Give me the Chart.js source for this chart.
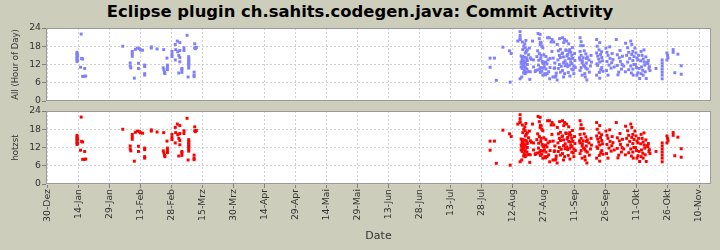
<!DOCTYPE html>
<html>
<head>
<meta charset="utf-8">
<script src="https://cdn.jsdelivr.net/npm/chart.js@4/dist/chart.umd.min.js"></script>
<style>
  html, body { margin: 0; padding: 0; background: #cdcdbb; }
  #wrap { position: relative; width: 720px; height: 250px; }
  #wrap canvas { position: absolute; left: 0; top: 0; }
  #title {
    position: absolute; left: 0; top: 2px; width: 720px; text-align: center;
    font: bold 16.4px "DejaVu Sans", sans-serif; color: #000;
  }
</style>
</head>
<body>
<div id="wrap">
  <div id="title">Eclipse plugin ch.sahits.codegen.java: Commit Activity</div>
  <canvas id="allChart" width="720" height="250"></canvas>
  <canvas id="userChart" width="720" height="250"></canvas>
</div>
<script>
// === Data ===
// x = days after 30-Dez, y = hour of day of the commit
const commitDays = [
    14.3, 14.3, 14.3, 14.3, 14.3, 14.3, 14.3, 14.6, 14.6,
    16.3, 16.5, 17, 16, 18, 17, 17.8, 18.5,
    36.4, 40, 40, 40.3, 41, 41, 41, 42, 42.5, 43.5, 44.5, 45, 46, 44, 44,
    47, 47, 47, 47, 50.2, 50.2, 53, 56.2, 56, 56.3, 56.6, 56.8, 57.8, 58, 58, 58,
    60.2, 60.2, 60.2, 61.8, 62.8, 64, 61.8, 62, 63, 63.5, 64, 64, 64, 65, 65, 63.5, 65,
    66, 66, 67.5, 68.3, 68.3, 68.3, 68.3, 68.3, 68.3, 68.3, 68.3, 68,
    71.2, 71.2, 72, 71.5, 70.9, 70.9, 70.9,
    214, 216.1, 214, 217, 220.2, 223.4, 224.2, 223.7,
    228.5, 228.5, 228.5, 228.5, 227.4, 231.3, 230.3, 231, 232, 231.5, 233, 229.8, 231,
    229.5, 230, 230.5, 231, 231.5, 232, 229.3, 230.5, 229.5, 230.5, 231.5, 228.5, 229.3, 233.4, 235, 234.5,
    238.2, 238.7, 238.2, 239, 239.5, 241.8, 242.7, 236.6, 237.5, 238.5, 239.5, 237.4, 238, 239, 239.5, 238.5,
    240, 241, 242, 243, 240.2, 241, 242.3, 243, 242.8, 243.9, 244.4, 241.5, 240.5,
    244, 244.5, 245, 245.5, 245.3,
    246.5, 247, 247.5, 246.8, 247.5, 247, 248, 248,
    249, 250, 251, 249, 249.5, 250.3, 251, 251.5, 250, 249.5, 251.5, 250.8, 252,
    252.5, 253, 253.5, 254, 253, 254.5, 253.5, 254.5, 255, 252.5,
    257.5, 258, 257.5, 258, 257.5, 258.5, 258, 257.5, 258.5, 259,
    259.5, 260.3, 261, 261.8, 260.5, 262.5, 261, 262, 260, 262.8, 263, 259.8,
    265.5, 267, 265.5, 266, 266.5, 267, 266, 267.5, 265.5, 267, 268, 268,
    270, 270.5, 271, 272, 270.5, 271.5, 272.5, 271, 273, 272.8, 270.3,
    275, 275.5, 276.5, 277, 275.5, 277.5, 276.2, 278, 277.8, 275.8,
    279.5, 280.5, 281, 280, 281.5, 280.5, 282, 281, 282.3, 283, 282.5,
    282, 282.5, 283, 283.5, 283, 283.2,
    284, 284.5, 285, 285.5, 284.3, 286, 285, 286.3, 285.8, 284.8,
    287, 287.5, 288, 288.5, 287.2, 289, 288, 289.5, 289.3, 288.8, 287.8,
    290.5, 291, 290.8, 291.3, 290.3, 294.2,
    297.2, 297.2, 297.2, 297.2, 297.2, 297.2, 297.2,
    299.5, 299.8, 300, 299.5, 302.5, 302.5, 304.8, 303.3, 306.4, 306.4,
    229, 229.5, 230.8, 231.8, 229, 230, 231, 231.8, 229, 230.2, 231, 232, 229.8, 230.8, 229.6,
    232.6, 233.5, 234, 232.7, 233.2, 235, 236, 235.8,
    237.2, 237.8, 238.3, 237, 237.8, 238.6, 239.2, 240, 237, 238.3, 239.6, 240.8, 241.6, 240.8,
    243.5, 244.8, 245.2, 246, 246.4, 245.8,
    247.6, 249.6, 252, 248, 248.8, 249.5, 250.3, 251.2, 252.2, 252.8, 253.6, 254.2, 254.8, 255.2,
    248.4, 249, 251.8, 252.6, 250.6, 253.8,
    257.8, 259, 257.2, 258.6, 259.2, 260.3, 259.8, 260.8, 260.6,
    265.8, 266.7, 267.4, 268.3, 265.6, 266.8, 268.6, 267.9,
    271.8, 273.4, 274, 276.8, 278.6, 279.4, 283.6, 286.8, 288.4, 289.8, 285.5, 287
];
const commitHours = [
    13, 13.5, 14, 14.5, 15, 15.5, 16, 13.3, 14.8,
    22, 14, 13.8, 11.1, 10.7, 8.1, 8.1, 8.2,
    18, 12.5, 11.5, 10.9, 16.3, 15.5, 14.7, 7.5, 17, 17.4, 17.2, 16.8, 16.7, 12.4, 10.7,
    11.3, 11.8, 9, 8.5, 17.4, 17.8, 17.1, 16.9, 10.9, 10.2, 9.4, 9, 14.1, 11.8, 11, 10.3,
    16.3, 15.3, 14.6, 18.6, 19.7, 19.2, 13.5, 16.9, 16.2, 15, 14.3, 16.6, 12.9, 10.7, 10.3, 9.2, 9.4,
    17.5, 16.6, 21.6, 14.6, 14, 13.5, 13, 12.5, 12, 11.3, 10.8, 7.9,
    18.8, 17.5, 17.6, 17.2, 9.5, 8.5, 8,
    14.1, 14.1, 11.1, 6.8, 17.7, 16.5, 15.6, 6.2,
    22.8, 21.5, 20.5, 20.2, 19.7, 19.9, 18, 17.5, 16.8, 16.3, 17.4, 14.6, 15.8,
    14, 13.5, 13, 12.7, 14.2, 13.3, 12.2, 12, 10.7, 10, 9.5, 7.3, 7.9, 9.6, 13.5, 19.7,
    21.9, 19.1, 18.6, 18, 17.5, 20.8, 20.8, 14.6, 13.4, 14, 12.5, 11.8, 10.5, 9.8, 8.5, 11,
    15.2, 14.6, 13.5, 14, 11.3, 10.5, 9.6, 11, 7.3, 16.3, 7.9, 12.2, 9,
    20.2, 14.1, 10.7, 7.9, 12.5,
    18.6, 16.5, 15, 13.5, 12, 10.7, 9.5, 14.3,
    20.8, 20.2, 19.7, 15.8, 14.5, 13.2, 12.2, 11.3, 9, 7.9, 15.3, 16.6, 14,
    16.9, 16, 15, 14, 12.8, 11.5, 10.5, 9, 13.3, 11.8,
    20.8, 19.5, 16.3, 15, 13.5, 12.5, 11, 10, 8.5, 14.2,
    16.5, 15.5, 14.5, 13.5, 12.5, 11.5, 10.5, 9.5, 7.9, 15, 12.8, 11.4,
    20.2, 19.2, 15.8, 14.8, 13.8, 12.8, 11.7, 10.3, 8.5, 7.5, 14.3, 11,
    17.4, 16, 15, 14, 13, 11.8, 10.8, 8.5, 15.6, 12.6, 10,
    20.2, 15.2, 14.2, 13, 11.7, 10.5, 9.5, 14.7, 12, 8.6,
    19, 17.5, 16, 15, 14, 12.8, 11.5, 10.3, 9.2, 13.3, 15.3,
    19.7, 18.6, 16.3, 12, 10.5, 8.5,
    17.4, 15.8, 14.1, 13.5, 12, 10.7, 8.5, 7.4, 15, 11,
    16.3, 15, 13.8, 12.8, 11.2, 9.6, 8.5, 7.4, 14.5, 11.8, 10.1,
    13.3, 11.3, 10.7, 10, 12.3, 10.7,
    13.5, 12.5, 11.5, 10.5, 9.5, 8.5, 7.3,
    15.8, 15, 14.2, 13.5, 16.9, 16, 15.4, 9.3, 11.6, 8.8,
    14.8, 13.2, 14.4, 13.8, 12.8, 11.5, 11, 10.5, 11.2, 9.2, 9, 12, 16.9, 18.8, 19.4,
    15.2, 14.2, 13.7, 9.7, 7.1, 11.2, 10, 9.7,
    22.2, 20.5, 19.3, 16.5, 15.6, 15, 13, 12.3, 10.2, 9.4, 10.8, 12.8, 9, 8.6,
    19.4, 19.4, 10.9, 9.2, 6.9, 8.3,
    20.5, 19.2, 18.8, 17, 15.6, 12.6, 11.6, 14.8, 16.3, 13.8, 12.3, 10.2, 15.6, 11,
    11.4, 10, 9.4, 8.2, 16.8, 17.6,
    18.2, 18.2, 14.2, 13.2, 11.8, 10.8, 9, 6.9, 14,
    18, 16.8, 15.3, 13.2, 12.2, 9.4, 9.8, 16.2,
    17.8, 13.6, 11.2, 16.6, 11.5, 9.6, 14.6, 13.2, 16.8, 12.6, 9.3, 9
];
const dayTicks = [0, 15, 30, 45, 60, 75, 90, 105, 120, 135, 150, 165, 180, 195, 210, 225, 240, 255, 270, 285, 300, 315];
const dateLabels = ['30-Dez', '14-Jan', '29-Jan', '13-Feb', '28-Feb', '15-Mrz', '30-Mrz', '14-Apr', '29-Apr',
    '14-Mai', '29-Mai', '13-Jun', '28-Jun', '13-Jul', '28-Jul', '12-Aug', '27-Aug', '11-Sep', '26-Sep',
    '11-Okt', '26-Okt', '10-Nov'];
const hourTicks = [0, 6, 12, 18, 24];

const points = commitDays.map((d, i) => ({ x: d, y: commitHours[i] }));

// white plot background + grey frame
const plotFrame = {
    id: 'plotFrame',
    beforeDraw(chart) {
        const { ctx, chartArea: a } = chart;
        ctx.save();
        ctx.fillStyle = '#ffffff';
        ctx.fillRect(a.left, a.top, a.right - a.left, a.bottom - a.top);
        ctx.restore();
    },
    afterDraw(chart) {
        const { ctx, chartArea: a } = chart;
        ctx.save();
        ctx.strokeStyle = '#9a9a9a';
        ctx.lineWidth = 1;
        ctx.strokeRect(a.left + 0.5, a.top + 0.5, a.right - a.left - 1, a.bottom - a.top - 1);
        ctx.restore();
    }
};

const tickFont = { family: 'DejaVu Sans', size: 9.3 };

function makePanel(id, color, yTitle, bottomAxis) {
    return new Chart(document.getElementById(id), {
        type: 'scatter',
        data: {
            datasets: [{
                data: points,
                backgroundColor: color,
                borderWidth: 0,
                pointStyle: 'rect',
                pointRadius: 2.1
            }]
        },
        plugins: [plotFrame],
        options: {
            responsive: false,
            animation: false,
            layout: {
                padding: bottomAxis
                    ? { top: 111, bottom: 0, left: 0, right: 9 }
                    : { top: 28, bottom: 149, left: 0, right: 9 }
            },
            plugins: { legend: { display: false }, tooltip: { enabled: false } },
            scales: {
                x: {
                    type: 'linear',
                    min: -0.7,
                    max: 320.8,
                    afterBuildTicks: s => { s.ticks = dayTicks.map(v => ({ value: v })); },
                    afterFit: s => { s.height = bottomAxis ? 66 : 0; },
                    grid: {
                        color: '#d0d0d0',
                        drawTicks: bottomAxis,
                        tickLength: 4,
                        tickColor: '#808080'
                    },
                    border: { display: false, dash: [2, 2] },
                    ticks: {
                        display: bottomAxis,
                        autoSkip: false,
                        minRotation: 90,
                        maxRotation: 90,
                        padding: 1,
                        color: '#333',
                        font: tickFont,
                        callback: (v, i) => dateLabels[i]
                    },
                    title: {
                        display: bottomAxis,
                        text: 'Date',
                        color: '#333',
                        font: { family: 'DejaVu Sans', size: 11 },
                        padding: { top: 0, bottom: 7 }
                    }
                },
                y: {
                    min: 0,
                    max: 24,
                    afterBuildTicks: s => { s.ticks = hourTicks.map(v => ({ value: v })); },
                    afterFit: s => { s.width = 46; },
                    grid: {
                        color: '#d0d0d0',
                        tickLength: 4,
                        tickColor: '#808080'
                    },
                    border: { display: false, dash: [2, 2] },
                    ticks: { padding: 1, color: '#333', font: tickFont },
                    title: {
                        display: true,
                        text: yTitle,
                        color: '#333',
                        font: { family: 'DejaVu Sans', size: 8.5 },
                        padding: { top: 11, bottom: 0 }
                    }
                }
            }
        }
    });
}

makePanel('allChart', 'rgb(128,128,255)', 'All (Hour of Day)', false);
makePanel('userChart', 'rgb(255,0,0)', 'hotzst', true);
</script>
</body>
</html>
